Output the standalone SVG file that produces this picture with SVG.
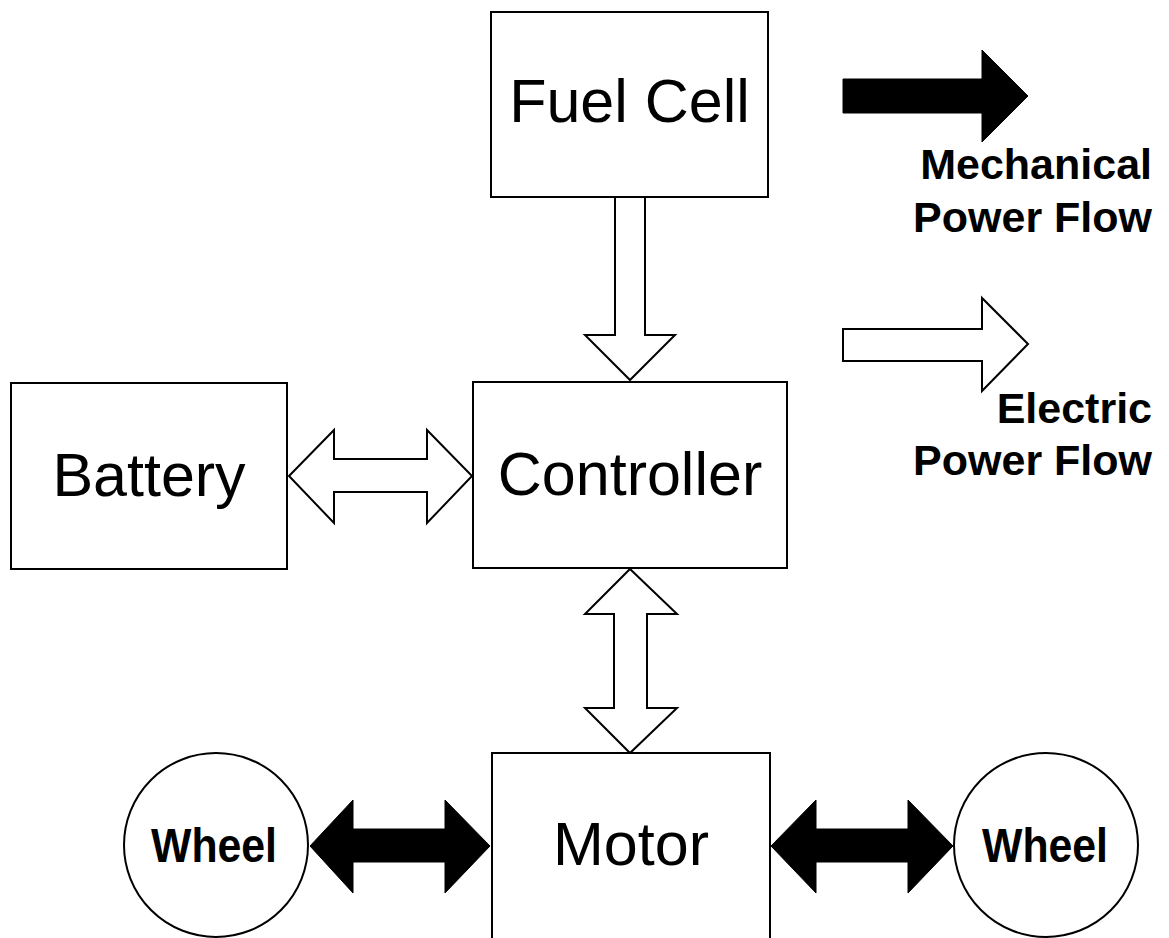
<svg xmlns="http://www.w3.org/2000/svg" width="1169" height="938" viewBox="0 0 1169 938">
<style>
.box{fill:#fff;stroke:#000;stroke-width:2}
.lbl{font-family:"Liberation Sans",Arial,sans-serif;font-size:61px;fill:#000;text-anchor:middle}
.wl{font-family:"Liberation Sans",Arial,sans-serif;font-weight:bold;font-size:48px;fill:#000;text-anchor:middle}
.leg{font-family:"Liberation Sans",Arial,sans-serif;font-weight:bold;font-size:43px;fill:#000;text-anchor:end}
.ea{fill:#fff;stroke:#000;stroke-width:2;stroke-linejoin:miter}
.ma{fill:#000;stroke:#000;stroke-width:1}
</style>
<rect width="1169" height="938" fill="#fff"/>
<g id="connectors">
<polygon class="ea" points="615,197 645,197 645,335 675,335 630,380 585,335 615,335"/>
<polygon class="ea" points="289,476 334,430 334,459 427,459 427,430 472,476 427,523 427,492 334,492 334,523"/>
<polygon class="ea" points="630,569 677,614 647,614 647,708 677,708 630,753 585,708 614,708 614,614 585,614"/>
<polygon class="ma" points="310,846 353,800 353,829 445,829 445,800 490,846 445,893 445,862 353,862 353,893"/>
<polygon class="ma" points="771,846 816,800 816,829 908,829 908,800 953,846 908,893 908,862 816,862 816,893"/>
</g>
<g id="fuelcell"><rect class="box" x="491" y="12" width="277" height="185"/><text class="lbl" x="629.5" y="122">Fuel Cell</text></g>
<g id="controller"><rect class="box" x="473" y="382" width="314" height="186"/><text class="lbl" x="630" y="495">Controller</text></g>
<g id="battery"><rect class="box" x="11" y="383" width="276" height="186"/><text class="lbl" x="149" y="496">Battery</text></g>
<g id="motor"><path class="box" d="M492,940 V753 H770 V940"/><text class="lbl" x="631" y="865">Motor</text></g>
<g id="wheel-left"><circle class="box" cx="216" cy="845" r="92"/><text class="wl" x="214" y="862" textLength="126" lengthAdjust="spacingAndGlyphs">Wheel</text></g>
<g id="wheel-right"><circle class="box" cx="1046" cy="845" r="92"/><text class="wl" x="1045" y="862" textLength="126" lengthAdjust="spacingAndGlyphs">Wheel</text></g>
<g id="legend-mech">
<polygon class="ma" points="843,79 982,79 982,50 1028,96 982,142 982,113 843,113"/>
<text class="leg" x="1152" y="179">Mechanical</text>
<text class="leg" x="1152" y="232">Power Flow</text>
</g>
<g id="legend-elec">
<polygon class="ea" points="843,329 982,329 982,298 1028,344 982,391 982,361 843,361"/>
<text class="leg" x="1152" y="423">Electric</text>
<text class="leg" x="1152" y="475">Power Flow</text>
</g>
</svg>
